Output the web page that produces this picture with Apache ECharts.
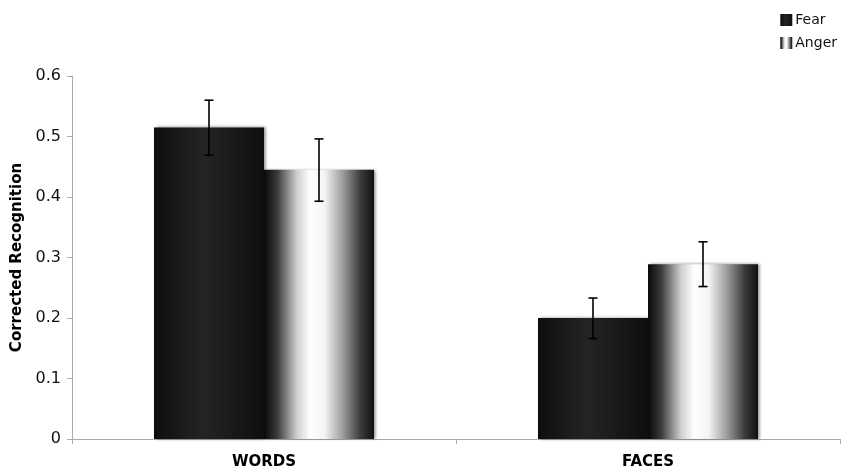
<!DOCTYPE html>
<html><head><meta charset="utf-8">
<script src="https://cdn.jsdelivr.net/npm/echarts@6/dist/echarts.min.js"></script>
<style>html,body{margin:0;padding:0;background:#fff}#c{width:842px;height:472px}</style>
</head><body><div id="c"></div>
<script>
const categories = ['WORDS', 'FACES'];
const fearValues = [0.515, 0.200];
const angerValues = [0.445, 0.289];
const fearLow = [0.469, 0.166];
const fearHigh = [0.560, 0.233];
const angerLow = [0.393, 0.252];
const angerHigh = [0.496, 0.326];
const yTicks = [0, 0.1, 0.2, 0.3, 0.4, 0.5, 0.6];

const chart = echarts.init(document.getElementById('c'));
const fearGrad = new echarts.graphic.LinearGradient(0, 0, 1, 0, [
  {offset: 0, color: '#0e0e0e'}, {offset: 0.45, color: '#242424'}, {offset: 1, color: '#0e0e0e'}
]);
const angerGrad = new echarts.graphic.LinearGradient(0, 0, 1, 0, [
  {offset: 0, color: '#080808'}, {offset: 0.12, color: '#3a3a3a'}, {offset: 0.3, color: '#cfcfcf'},
  {offset: 0.42, color: '#ffffff'}, {offset: 0.55, color: '#f4f4f4'}, {offset: 0.72, color: '#9a9a9a'},
  {offset: 0.88, color: '#3a3a3a'}, {offset: 1, color: '#111111'}
]);

function errSeries(low, high, seriesIndex) {
  return {
    type: 'custom',
    data: categories.map((c, i) => [i, low[i], high[i]]),
    z: 10,
    silent: true,
    renderItem: function (params, api) {
      const i = api.value(0);
      const lo = api.coord([i, api.value(1)]);
      const hi = api.coord([i, api.value(2)]);
      const size = api.size([1, 0])[0];
      const barW = size * 0.2865;
      const x = lo[0] + (seriesIndex === 0 ? -barW / 2 : barW / 2);
      const cap = 4.5;
      const st = {stroke: '#000', lineWidth: 1.6};
      return {type: 'group', children: [
        {type: 'line', shape: {x1: x, y1: lo[1], x2: x, y2: hi[1]}, style: st},
        {type: 'line', shape: {x1: x - cap, y1: lo[1], x2: x + cap, y2: lo[1]}, style: st},
        {type: 'line', shape: {x1: x - cap, y1: hi[1], x2: x + cap, y2: hi[1]}, style: st}
      ]};
    }
  };
}

chart.setOption({
  animation: false,
  backgroundColor: '#fff',
  grid: {left: 72, right: 2, top: 76, bottom: 33},
  legend: {
    data: ['Fear', 'Anger'],
    orient: 'vertical',
    right: 0, top: 8,
    itemWidth: 12, itemHeight: 12, itemGap: 9,
    icon: 'rect',
    textStyle: {fontFamily: 'DejaVu Sans', fontSize: 14, color: '#111', padding: [0, 0, 0, -2]}
  },
  xAxis: {
    type: 'category',
    data: categories,
    axisLine: {lineStyle: {color: '#aaa'}},
    axisTick: {show: true, alignWithLabel: false, length: 5, lineStyle: {color: '#aaa'}},
    axisLabel: {fontFamily: 'DejaVu Sans', fontWeight: 'bold', fontSize: 15, color: '#000', margin: 16}
  },
  yAxis: {
    type: 'value',
    min: 0, max: 0.6, interval: 0.1,
    name: 'Corrected Recognition',
    nameLocation: 'middle',
    nameGap: 45,
    nameTextStyle: {fontFamily: 'DejaVu Sans', fontWeight: 'bold', fontSize: 15, color: '#000'},
    axisLine: {show: true, lineStyle: {color: '#aaa'}},
    axisTick: {show: true, length: 5, lineStyle: {color: '#aaa'}},
    splitLine: {show: false},
    axisLabel: {
      fontFamily: 'DejaVu Sans', fontSize: 16, color: '#111', margin: 11,
      formatter: v => { const t = yTicks.find(x => Math.abs(x - v) < 1e-9); return t === undefined ? '' : String(t); }
    }
  },
  series: [
    {name: 'Fear', type: 'bar', data: fearValues, barGap: '0%', barCategoryGap: '42.7%',
     itemStyle: {color: fearGrad, shadowColor: 'rgba(0,0,0,0.45)', shadowOffsetX: 2, shadowOffsetY: 0, shadowBlur: 3}},
    {name: 'Anger', type: 'bar', data: angerValues, barGap: '0%', barCategoryGap: '42.7%',
     itemStyle: {color: angerGrad, shadowColor: 'rgba(0,0,0,0.45)', shadowOffsetX: 2, shadowOffsetY: 0, shadowBlur: 3}},
    errSeries(fearLow, fearHigh, 0),
    errSeries(angerLow, angerHigh, 1)
  ]
});
</script></body></html>
